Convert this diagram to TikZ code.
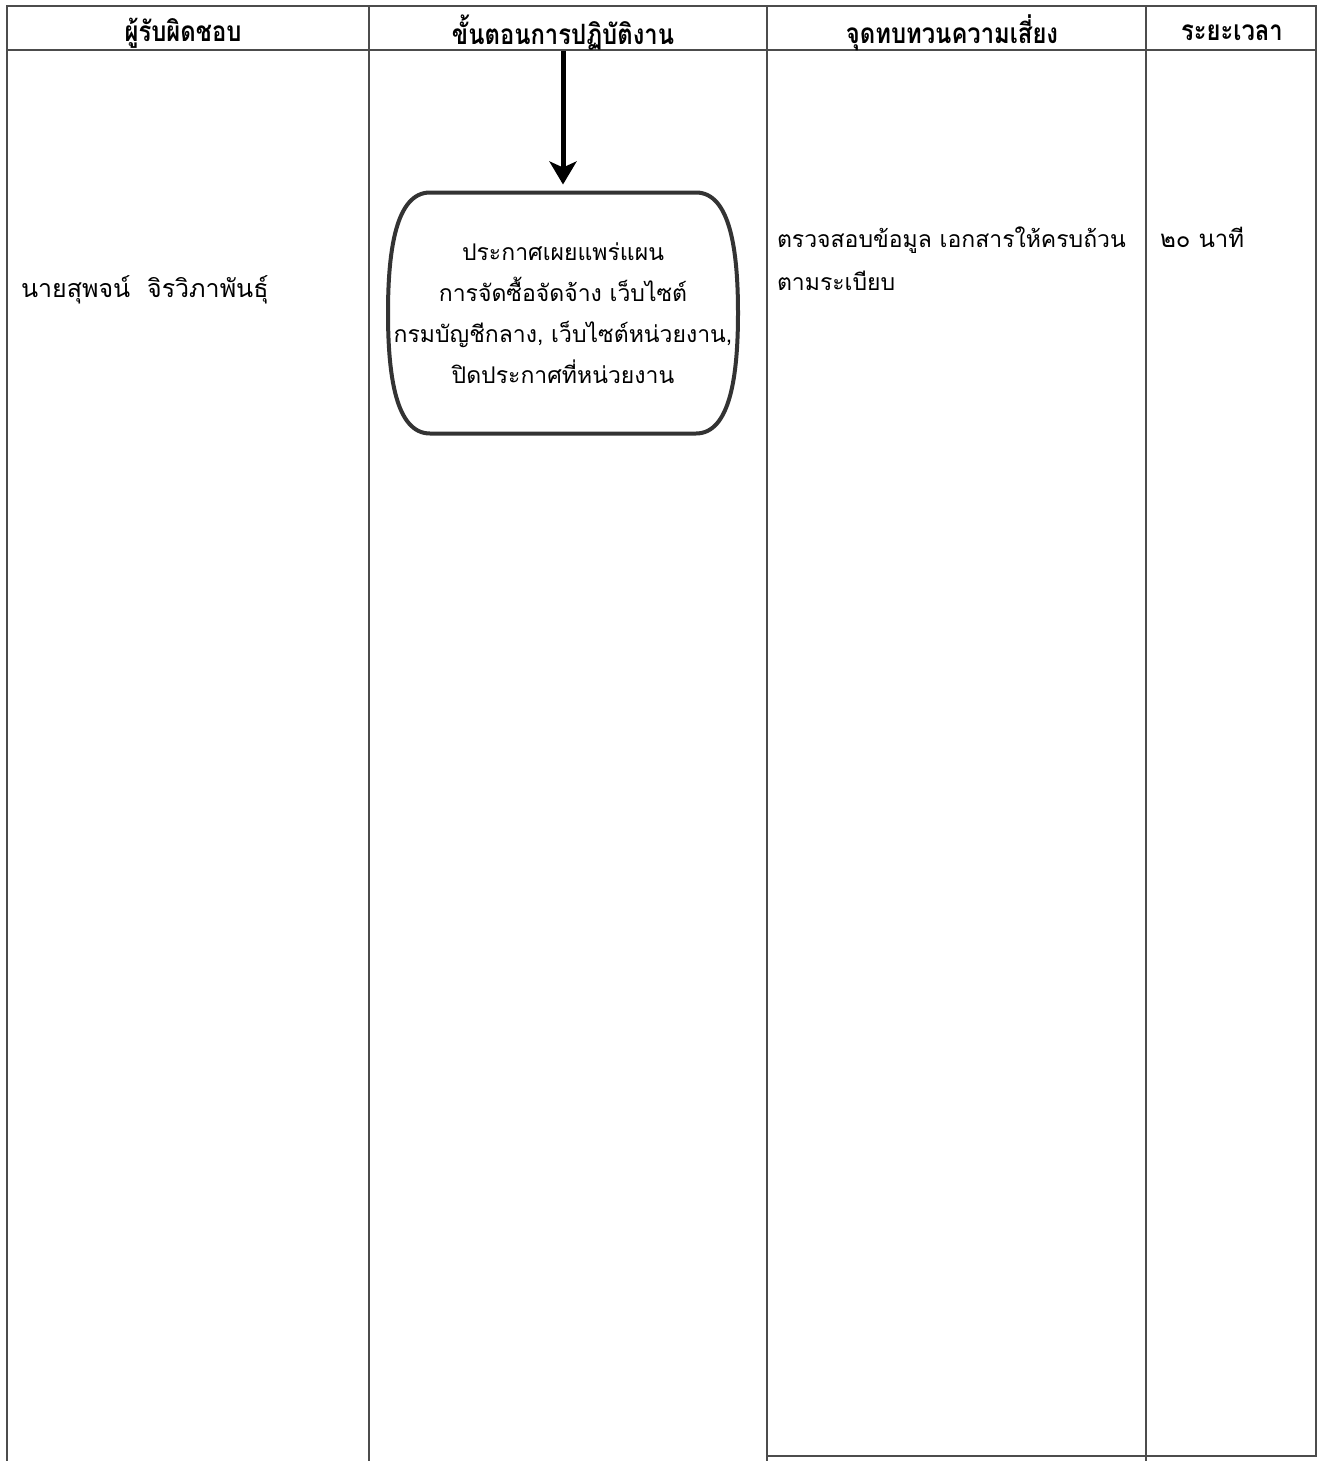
\documentclass[tikz,border=0pt]{standalone}
\usepackage{fontspec}
\setmainfont[Script=Thai]{Loma}
\newfontfamily\headfont[Script=Thai,FakeStretch=0.85]{Loma}
\usetikzlibrary{arrows.meta,calc}

\begin{document}
\begin{tikzpicture}[x=0.5pt,y=-0.5pt,
  every node/.style={inner sep=0pt,outer sep=0pt,font=\fontsize{12}{21.5}\selectfont},
  head/.style={font=\headfont\bfseries\fontsize{14}{16}\selectfont},
  grid/.style={draw=black!70,line width=1pt},
  step box/.style={minimum width=175pt,minimum height=120.5pt,align=center,
    font=\fontsize{11.5}{20.5}\selectfont}]
\useasboundingbox (0,0) rectangle (1322,1461);
% table
\draw[grid] (7,1461) -- (7,6) -- (1316,6) -- (1316,1456) -- (767,1456);
\draw[grid] (7,50) -- (1316,50);
\foreach \x in {369,767,1146} \draw[grid] (\x,6) -- (\x,1461);
\node[head] (H1) at (183,33) {ผู้รับผิดชอบ};
\node[head] (H2) at (563,33) {ขั้นตอนการปฏิบัติงาน};
\node[head] (H3) at (952,33) {จุดทบทวนความเสี่ยง};
\node[head] (H4) at (1232,33) {ระยะเวลา};
% row
\node[anchor=west,font=\fontsize{12.5}{21.5}\selectfont] (P) at (21,290) {นายสุพจน์\ \ จิรวิภาพันธุ์};
\node[step box] (B) at (563,313) {ประกาศเผยแพร่แผน\\การจัดซื้อจัดจ้าง เว็บไซต์\\กรมบัญชีกลาง, เว็บไซต์หน่วยงาน,\\ปิดประกาศที่หน่วยงาน};
\draw[line width=2pt,draw=black!80] ($(B.north west)+(42,0)$) -- ($(B.north east)+(-42,0)$)
  .. controls ($(B.north east)+(-8,0)$) and ($(B.east)+(0,-63)$) .. (B.east)
  .. controls ($(B.east)+(0,63)$) and ($(B.south east)+(-8,0)$) .. ($(B.south east)+(-42,0)$)
  -- ($(B.south west)+(42,0)$)
  .. controls ($(B.south west)+(8,0)$) and ($(B.west)+(0,63)$) .. (B.west)
  .. controls ($(B.west)+(0,-63)$) and ($(B.north west)+(8,0)$) .. cycle;
\coordinate (S) at (563,51);
\draw[line width=2.5pt,-{Stealth[length=11.5pt,width=13.5pt,inset=3pt]},shorten >=4pt] (S) -- (B.north);%
\node[anchor=north west,align=left,font=\fontsize{11.5}{21.5}\selectfont] (R) at (777,227) {ตรวจสอบข้อมูล เอกสารให้ครบถ้วน\\ตามระเบียบ};
\node[anchor=north west] (T) at (1160,227) {๒๐ นาที};
\end{tikzpicture}
\end{document}
